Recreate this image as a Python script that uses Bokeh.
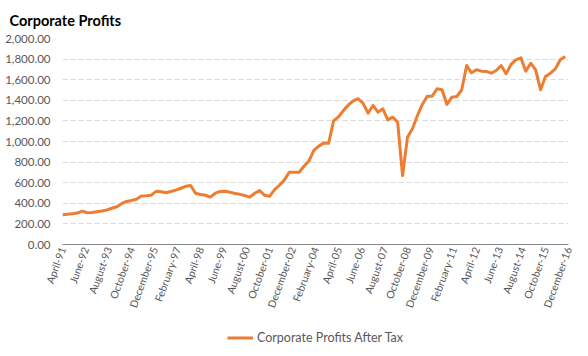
import math
from bokeh.plotting import figure
from bokeh.layouts import column
from bokeh.models import (FixedTicker, NumeralTickFormatter, Legend, LegendItem,
                          Range1d)
from bokeh.embed import file_html
from bokeh.resources import INLINE

# Corporate profits after tax, quarterly from April 1991 to late 2016
profits = [
    288, 293, 299, 305, 324, 308, 311, 318, 326, 335,
    352, 366, 396, 418, 428, 440, 470, 473, 479, 516,
    512, 503, 515, 528, 546, 565, 573, 498, 486, 478,
    460, 498, 515, 517, 508, 495, 487, 475, 460, 498,
    524, 478, 468, 530, 575, 625, 702, 702, 702, 760,
    810, 913, 955, 985, 984, 1200, 1240, 1300, 1355, 1395,
    1415, 1370, 1275, 1350, 1285, 1317, 1210, 1236, 1188, 670,
    1042, 1123, 1250, 1360, 1440, 1440, 1512, 1502, 1359, 1430,
    1437, 1502, 1738, 1667, 1696, 1683, 1680, 1663, 1689, 1738,
    1657, 1748, 1793, 1812, 1683, 1760, 1696, 1502, 1631, 1663,
    1706, 1793, 1825,
]
months = [3 * i for i in range(len(profits))]  # months since April 1991

tick_labels = [
    "April-91", "June-92", "August-93", "October-94", "December-95",
    "February-97", "April-98", "June-99", "August-00", "October-01",
    "December-02", "February-04", "April-05", "June-06", "August-07",
    "October-08", "December-09", "February-11", "April-12", "June-13",
    "August-14", "October-15", "December-16",
]
tick_months = [14 * k for k in range(len(tick_labels))]
y_ticks = list(range(0, 2001, 200))
series_name = "Corporate Profits After Tax"

FONT = "Lato"
TXT = "#595959"
LINE = "#ED7D31"

p = figure(width=588, height=326,
           output_backend="svg", toolbar_location=None,
           x_range=Range1d(0, 308), y_range=Range1d(0, 2000),
           min_border_left=62, min_border_right=20, min_border_top=37,
           min_border_bottom=82)

p.title.text = "Corporate Profits"
p.title.align = "left"
p.title.offset = -53
p.title.text_font = FONT
p.title.text_font_size = "14.5px"
p.title.text_font_style = "bold"
p.title.text_color = "#000000"
p.title.standoff = 19
p.title.text_line_height = 0.8

r = p.line(months, profits, line_color=LINE, line_width=3, line_join="round")

p.xaxis.ticker = FixedTicker(ticks=tick_months)
p.xaxis.major_label_overrides = {m: lab for m, lab in zip(tick_months, tick_labels)}
p.xaxis.major_label_orientation = math.radians(70)
p.xaxis.major_tick_line_color = None
p.xaxis.major_tick_out = 0
p.xaxis.minor_tick_line_color = None
p.xaxis.minor_tick_out = 0
p.xaxis.axis_line_color = "#868686"
p.xaxis.major_label_standoff = 3
p.xaxis.major_label_text_font = FONT
p.xaxis.major_label_text_font_size = "10.5px"
p.xaxis.major_label_text_color = TXT

p.yaxis.ticker = FixedTicker(ticks=y_ticks)
p.yaxis.formatter = NumeralTickFormatter(format="0,0.00")
p.yaxis.axis_line_color = None
p.yaxis.major_tick_line_color = None
p.yaxis.minor_tick_line_color = None
p.yaxis.major_tick_out = 0
p.yaxis.minor_tick_out = 0
p.yaxis.major_label_standoff = 12
p.yaxis.major_label_text_font = FONT
p.yaxis.major_label_text_font_size = "11.5px"
p.yaxis.major_label_text_color = TXT

p.xgrid.visible = False
p.ygrid.grid_line_color = "#d9d9d9"
p.ygrid.grid_line_dash = "5 3"
p.outline_line_color = None

# legend strip below the chart (the series is drawn there outside the visible range,
# only its legend key shows)
lg = figure(width=588, height=22, output_backend="svg", toolbar_location=None,
            x_axis_location=None, y_axis_location=None,
            min_border=0, x_range=Range1d(0, 1), y_range=Range1d(0, 1))
lg.grid.visible = False
lg.outline_line_color = None
key = lg.line(months, profits, line_color=LINE, line_width=3)
legend = Legend(items=[LegendItem(label=series_name, renderers=[key])],
                orientation="horizontal", location="center",
                border_line_color=None, background_fill_alpha=0,
                label_text_font=FONT, label_text_font_size="12.5px",
                label_text_color=TXT, glyph_width=26, glyph_height=12,
                margin=0, padding=1, spacing=0, label_standoff=4)
lg.add_layout(legend, "center")

open("out.html", "w").write(file_html(column(p, lg, spacing=0), INLINE))
